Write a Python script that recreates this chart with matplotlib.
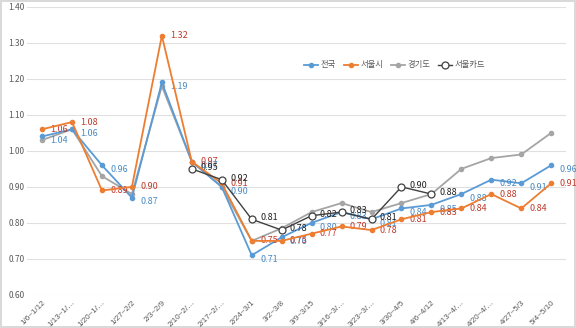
import numpy as np
import matplotlib
matplotlib.use("Agg")
import matplotlib.pyplot as plt

plt.rcParams['font.family'] = ['Noto Sans CJK KR', 'DejaVu Sans']

# Data
weeks = ['1/6~1/12', '1/13~1/…', '1/20~1/…', '1/27~2/2', '2/3~2/9', '2/10~2/…',
         '2/17~2/…', '2/24~3/1', '3/2~3/8', '3/9~3/15', '3/16~3/…', '3/23~3/…',
         '3/30~4/5', '4/6~4/12', '4/13~4/…', '4/20~4/…', '4/27~5/3', '5/4~5/10']
nation = [1.04, 1.06, 0.96, 0.87, 1.19, 0.97, 0.90, 0.71, 0.76, 0.80, 0.83, 0.81,
          0.84, 0.85, 0.88, 0.92, 0.91, 0.96]
seoul = [1.06, 1.08, 0.89, 0.90, 1.32, 0.97, 0.91, 0.75, 0.75, 0.77, 0.79, 0.78,
         0.81, 0.83, 0.84, 0.88, 0.84, 0.91]
gyeonggi = [1.03, 1.06, 0.93, 0.88, 1.18, 0.97, 0.90, 0.75, 0.785, 0.83, 0.855, 0.83,
            0.855, 0.88, 0.95, 0.98, 0.99, 1.05]
card_start = 5
seoul_card = [0.95, 0.92, 0.81, 0.78, 0.82, 0.83, 0.81, 0.90, 0.88]

x = np.arange(len(weeks))
xc = np.arange(card_start, card_start + len(seoul_card))

fig = plt.figure(figsize=(5.76, 3.28), dpi=100)
fig.patch.set_edgecolor('#d9d9d9')
fig.patch.set_linewidth(1.5)
ax = fig.add_axes([0.047, 0.101, 0.936, 0.878])

ax.plot(x, gyeonggi, color='#a5a5a5', lw=1.3, marker='o', ms=3, label='경기도', zorder=2)
ax.plot(x, nation, color='#5b9bd5', lw=1.3, marker='o', ms=3, label='전국', zorder=3)
ax.plot(x, seoul, color='#ed7d31', lw=1.3, marker='o', ms=3, label='서울시', zorder=4)
ax.plot(xc, seoul_card, color='#404040', lw=1.0, marker='o', ms=5,
        mfc='white', mec='#404040', mew=0.9, label='서울카드', zorder=5)

for xi, v in zip(x, nation):
    ax.annotate(f'{v:.2f}', (xi, v), xytext=(6, -3), textcoords='offset points',
                fontsize=6.5, color='#4a8ac4', va='center')
for xi, v in zip(x, seoul):
    ax.annotate(f'{v:.2f}', (xi, v), xytext=(6, 0), textcoords='offset points',
                fontsize=6.5, color='#c0392b', va='center')
for xi, v in zip(xc, seoul_card):
    ax.annotate(f'{v:.2f}', (xi, v), xytext=(6, 1), textcoords='offset points',
                fontsize=6.5, color='#222222', va='center')

ax.set_xlim(-0.5, len(weeks) - 0.5)
ax.set_ylim(0.60, 1.40)
ax.set_yticks(np.arange(0.60, 1.41, 0.10))
ax.set_yticklabels([f'{t:.2f}' for t in np.arange(0.60, 1.41, 0.10)])
ax.set_xticks(x)
ax.set_xticklabels(weeks, rotation=45, ha='right', rotation_mode='anchor',
                   family=['Liberation Sans', 'DejaVu Sans'], fontsize=5.8)
ax.tick_params(axis='both', length=0, labelsize=6, labelcolor='#595959', pad=2)
ax.tick_params(axis='x', labelsize=5.8, pad=3)
ax.grid(axis='y', color='#e0e0e0', lw=0.8)
ax.set_axisbelow(True)
for s in ax.spines.values():
    s.set_visible(False)

handles, labels = ax.get_legend_handles_labels()
order = [1, 2, 0, 3]
ax.legend([handles[i] for i in order], [labels[i] for i in order], loc='upper left',
          bbox_to_anchor=(0.50, 0.84), ncol=4, frameon=False, fontsize=6,
          handlelength=1.7, handletextpad=0.3, columnspacing=0.9,
          labelcolor='#595959')

fig.savefig('out.png', dpi=100)
